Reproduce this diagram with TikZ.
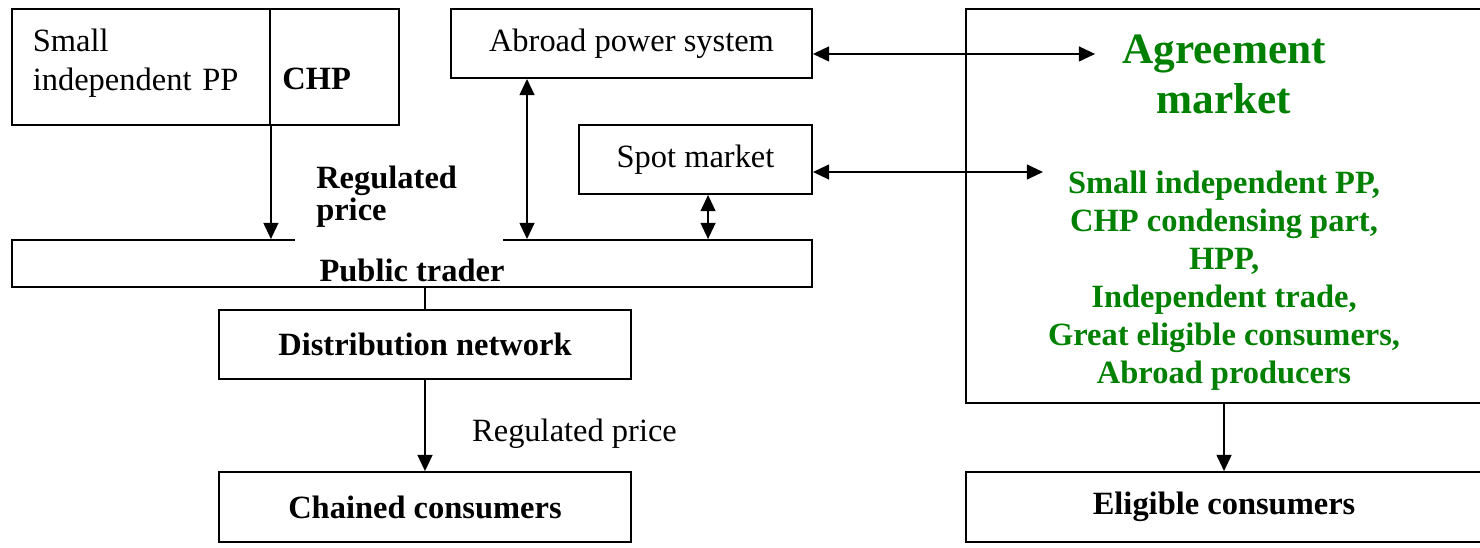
\documentclass[tikz,border=0pt,12pt]{standalone}
\usepackage{fontspec}
\setmainfont{Liberation Serif}
\usepackage{xcolor}
\usetikzlibrary{shapes,arrows.meta,positioning,calc}
\definecolor{mktgreen}{RGB}{0,128,0}

\begin{document}
\begin{tikzpicture}[box/.style={rectangle, draw, line width=0.7pt},
  conn/.style={line width=0.7pt, >={Triangle[length=6pt,width=5.5pt]}}]
\useasboundingbox (0,0) rectangle (19.22,7.104);

% lato sinistro
\node[box, minimum width=3.35cm, minimum height=1.506cm, align=left, text width=2.81cm, inner xsep=0.27cm, text depth=20pt] (sipp) at (1.831,6.234) {Small\\independent PP};
\node[box, minimum width=1.675cm, minimum height=1.506cm] (chp) at (4.344,6.234) {};
\node[anchor=base west, font=\bfseries] (chptxt) at (3.52,5.948) {CHP};
\node[box, minimum width=4.688cm, minimum height=0.896cm] (abroad) at (8.201,6.539) {Abroad power system};
\node[box, minimum width=3.026cm, minimum height=0.896cm] (spot) at (9.032,5.032) {Spot market};
\node[box, minimum width=10.39cm, minimum height=0.61cm] (public) at (5.351,3.682) {};
\node[anchor=base, font=\bfseries] (publictxt) at (5.351,3.442) {Public trader};
\node[box, minimum width=5.351cm, minimum height=0.896cm, font=\bfseries] (dist) at (5.519,2.630) {Distribution network};
\node[box, minimum width=5.351cm, minimum height=0.909cm, font=\bfseries] (chained) at (5.519,0.519) {Chained consumers};

% lato destro
\node[box, minimum width=6.70cm, minimum height=5.117cm] (agree) at (15.896,4.429) {};
\node[box, minimum width=6.70cm, minimum height=0.909cm, font=\bfseries] (eligible) at (15.896,0.519) {Eligible consumers};
\node[mktgreen, font=\bfseries\fontsize{16}{18.6}\selectfont, align=center] (agreetitle) at (15.896,6.14) {Agreement\\market};
\node[mktgreen, font=\bfseries\fontsize{12}{14}\selectfont, align=center] (agreelist) at (15.896,3.46) {Small independent PP,\\CHP condensing part,\\HPP,\\Independent trade,\\Great eligible consumers,\\Abroad producers};

\node[fill=white, anchor=south west, inner xsep=0.27cm, inner ysep=5pt, text width=2.16cm, align=left, font=\bfseries\fontsize{12}{11.8}\selectfont] (regbold) at (3.83,3.965) {Regulated\\price};

\coordinate (xabroad) at (6.844,0);
\coordinate (xspot) at (9.195,0);
\coordinate (agreein) at (14.221,6.403);
\coordinate (spotin) at (13.545,4.870);

\draw[conn,->] (sipp.south east) -- (sipp.south east |- public.north);
\draw[conn,<->] (xabroad |- abroad.south) -- (xabroad |- public.north);
\draw[conn,<->] (xspot |- spot.south) -- (xspot |- public.north);
\draw[conn,<->] (agreein -| abroad.east) -- (agreein);
\draw[conn,<->] (spotin -| spot.east) -- (spotin);
\draw[conn] (dist.north |- public.south) -- (dist.north);
\draw[conn,->] (dist) -- node[right=0.46cm, pos=0.59] (regprice) {Regulated price} (chained);
\draw[conn,->] (agree) -- (eligible);
\end{tikzpicture}
\end{document}
